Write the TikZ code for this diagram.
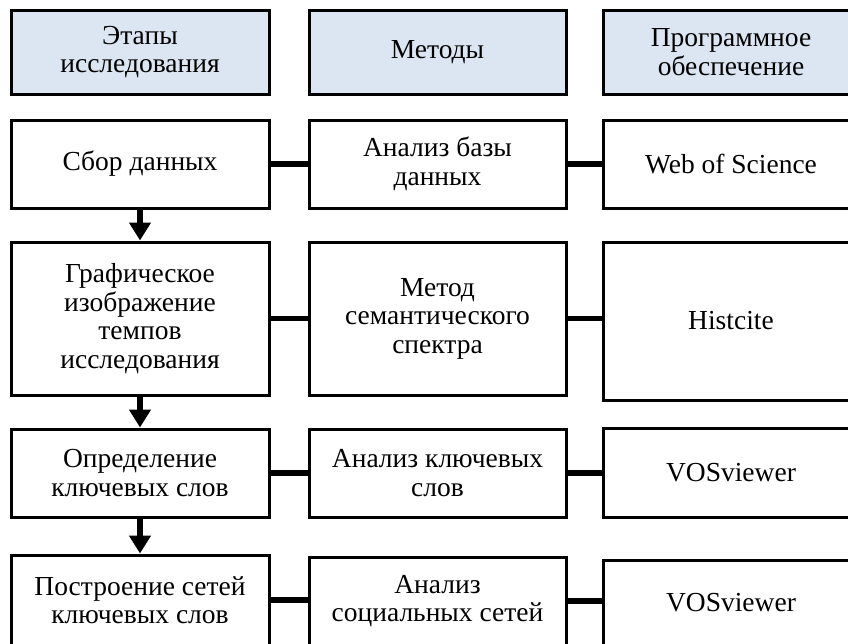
\documentclass[tikz,border=0pt]{standalone}
\usepackage{fontspec}
\setmainfont{Liberation Serif}
\usetikzlibrary{arrows.meta}
\definecolor{headblue}{HTML}{DCE6F2}
\tikzset{box/.style={draw, line width=3pt, align=center, inner sep=0pt,
    font=\fontsize{27.5}{28.5}\selectfont},
    headbox/.style={box, fill=headblue},
    colA/.style={box, minimum width=258pt},
    colB/.style={box, minimum width=257pt},
    colC/.style={box, minimum width=256pt},
    link/.style={line width=5.5pt},
    flow/.style={line width=6pt, -{Triangle[width=21pt,length=18pt]}}}

\begin{document}
\begin{tikzpicture}[x=1pt,y=-1pt]
    \useasboundingbox (0,0) rectangle (848,643);
    % header
    \node[colA, headbox, minimum height=84pt] (hA) at (140,52) {Этапы\\исследования};
    \node[colB, headbox, minimum height=84pt] (hB) at (437.5,52) {Методы};
    \node[colC, headbox, minimum height=84pt] (hC) at (731,52) {Программное\\обеспечение};
    % row 1
    \node[colA, minimum height=88pt] (sA) at (140,164) {Сбор данных};
    \node[colB, minimum height=88pt] (sB) at (437.5,164) {Анализ базы\\данных};
    \node[colC, minimum height=88pt] (sC) at (731,164) {Web of Science};
    % row 2
    \node[colA, minimum height=153pt] (gA) at (140,318.5) {Графическое\\изображение\\темпов\\исследования};
    \node[colB, minimum height=153pt] (gB) at (437.5,318.5) {Метод\\семантического\\спектра};
    \node[colC, minimum height=158pt] (gC) at (731,321) {Histcite};
    % row 3
    \node[colA, minimum height=88pt] (kA) at (140,473) {Определение\\ключевых слов};
    \node[colB, minimum height=88pt] (kB) at (437.5,473) {Анализ ключевых\\слов};
    \node[colC, minimum height=89pt] (kC) at (731,472.5) {VOSviewer};
    % row 4
    \node[colA, minimum height=90pt] (nA) at (140,600) {Построение сетей\\ключевых слов};
    \node[colB, minimum height=88pt] (nB) at (437.5,601) {Анализ\\социальных сетей};
    \node[colC, minimum height=85pt] (nC) at (731,602.5) {VOSviewer};
    % connectors
    \foreach \a/\b/\c in {sA/sB/sC, gA/gB/gC, kA/kB/kC, nA/nB/nC} {
        \draw[link] (\a.east) -- (\b.west |- \a.east);
        \draw[link] (\b.east) -- (\c.west |- \b.east);
    }
    % stages
    \draw[flow] (sA) -- (gA);
    \draw[flow] (gA) -- (kA);
    \draw[flow] (kA) -- (nA);
\end{tikzpicture}
\end{document}
